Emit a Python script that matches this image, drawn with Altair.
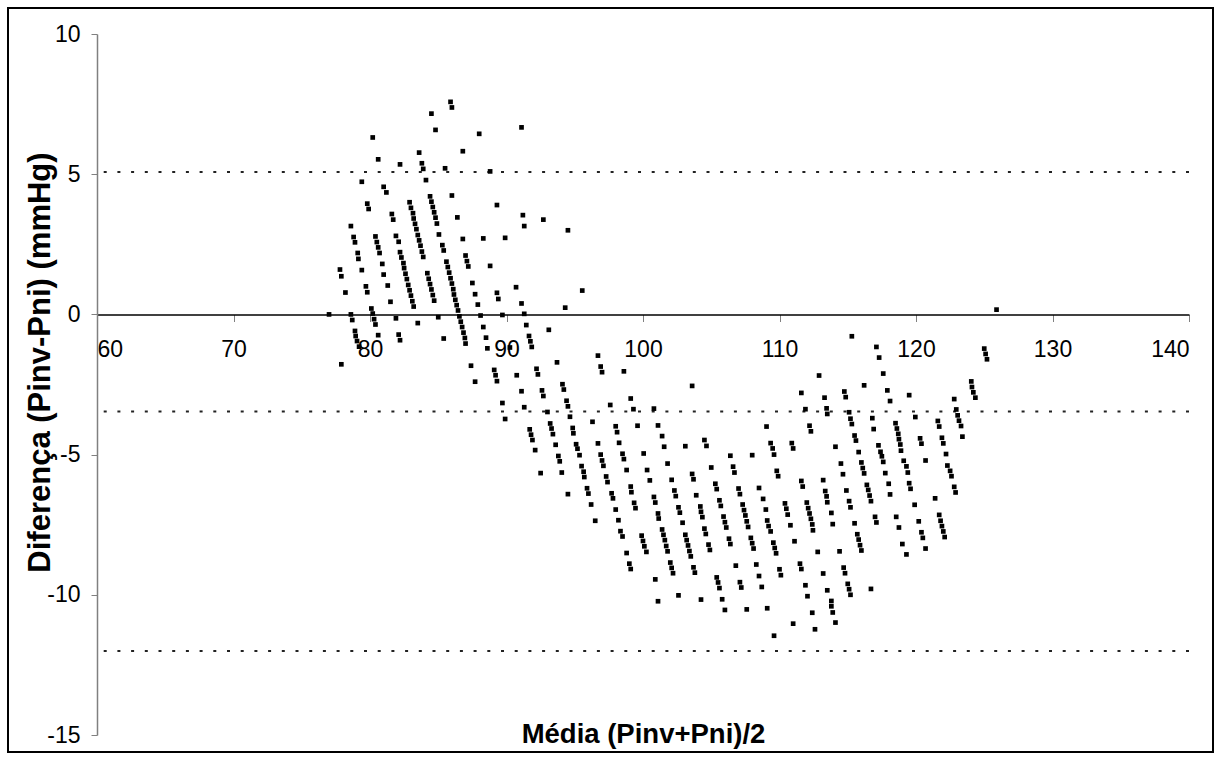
import altair as alt
import pandas as pd

# ---- data (mean, difference) ----
cluster_left = [
    (77.0, 0.0), (77.9, -1.78), (77.8, 1.6), (77.9, 1.36), (78.2, 0.78), (78.6, 0.0),
    (78.7, -0.2), (78.9, -0.59), (78.95, -0.77), (79.05, -0.95), (79.2, -1.15),
    (78.6, 3.15), (78.8, 2.76), (78.9, 2.57), (79.1, 2.19), (79.15, 1.98), (79.4, 1.58),
    (79.7, 1.0), (79.8, 0.79), (80.1, 0.21), (80.2, 0.03), (80.3, -0.17), (80.4, -0.36),
    (80.6, -0.74), (80.2, 6.31), (80.6, 5.53), (79.8, 3.95), (79.9, 3.76), (80.4, 2.78),
    (80.5, 2.58), (80.6, 2.39), (80.7, 2.19), (80.9, 1.8), (79.4, 4.73), (81.0, 4.55),
    (81.2, 4.35), (81.6, 3.58), (81.7, 3.38), (81.9, 2.8), (82.1, 2.59), (82.2, 2.22),
    (82.3, 2.03), (82.45, 1.83), (82.5, 1.65), (81.0, 1.42), (81.3, 1.03), (81.5, 0.45),
    (81.9, -0.14), (82.1, -0.72), (82.2, -0.92), (82.2, 5.35), (83.6, 5.77), (83.8, 5.39),
    (83.9, 5.19), (84.1, 4.79),
]
cluster_peak = [
    (82.9, 4.0), (83.0, 3.8), (83.15, 3.61), (83.2, 3.42), (83.3, 3.23), (83.4, 3.04),
    (83.5, 2.83), (83.6, 2.64), (83.7, 2.45), (83.8, 2.24), (83.9, 2.05),
    (82.6, 1.45), (82.7, 1.26), (82.8, 1.05), (82.9, 0.86), (83.0, 0.67), (83.1, 0.47),
    (83.2, 0.28), (84.2, 1.47), (84.3, 1.27), (84.4, 1.08), (84.5, 0.89), (84.6, 0.69),
    (84.7, 0.49), (84.4, 4.21), (84.5, 4.02), (84.6, 3.83), (84.7, 3.64), (84.8, 3.45),
    (84.9, 3.24), (85.05, 2.85), (85.3, 2.47), (85.4, 2.28), (85.6, 1.88), (85.7, 1.69),
    (85.8, 1.49), (85.9, 1.29), (86.0, 1.1), (86.1, 0.9), (86.15, 0.71), (86.25, 0.52),
    (86.35, 0.33), (86.45, 0.14), (86.55, -0.07), (86.65, -0.26), (86.75, -0.45),
    (86.85, -0.65), (86.95, -0.84), (87.0, -1.04),
    (85.9, 7.58), (86.0, 7.38), (84.5, 7.16), (84.8, 6.58), (88.0, 6.44), (86.8, 5.82),
    (85.5, 5.21), (86.0, 4.24), (86.4, 3.46), (86.8, 2.69), (88.3, 2.71), (87.0, 2.1),
    (87.1, 1.9), (87.2, 1.71), (88.8, 1.73), (88.8, 5.1),
    (87.5, 1.12), (87.7, 0.72), (87.9, 0.35), (88.1, -0.04), (88.3, -0.45), (88.5, -0.83),
    (88.6, -1.21), (87.4, -1.83), (87.7, -2.4), (85.0, -0.1), (85.4, -0.86), (83.5, -0.31),
]
cluster_cross = [
    (89.3, 0.77), (89.4, 0.55), (90.7, 0.97), (91.1, 0.39), (89.7, -0.02), (91.3, 0.02),
    (91.45, -0.38), (91.65, -0.77), (91.75, -0.96), (91.85, -1.16), (93.1, -0.55),
    (94.3, 0.24), (95.55, 0.85), (90.25, -1.18), (89.1, -1.98), (89.2, -2.17), (89.3, -2.38),
    (90.75, -2.17), (92.2, -1.94), (92.3, -2.14), (93.7, -1.71), (91.1, -2.74), (92.6, -2.71),
    (92.7, -2.91), (94.1, -2.49), (94.2, -2.68), (94.4, -3.08), (94.5, -3.28), (96.7, -1.47),
    (96.9, -1.86), (97.0, -2.06), (98.6, -2.03), (89.7, -3.16), (89.9, -3.73), (91.3, -3.31),
    (93.0, -3.48), (94.65, -3.65), (97.6, -3.23), (99.1, -3.0), (99.3, -3.38), (100.8, -3.36),
    (96.3, -3.83), (98.0, -3.99), (98.1, -4.2), (99.6, -3.97), (101.1, -3.96), (91.7, -4.1),
    (91.8, -4.29), (91.9, -4.48), (93.2, -3.89), (93.3, -4.07), (93.4, -4.27), (94.85, -4.05),
    (94.9, -4.24), (93.6, -4.65), (95.1, -4.63), (95.2, -4.79), (96.7, -4.6), (98.25, -4.58),
    (92.1, -4.84),
    (91.1, 6.67), (89.3, 3.9), (91.2, 3.54), (91.3, 3.15), (92.7, 3.38), (94.5, 3.0),
    (89.9, 2.73),
]
cluster_mid = [
    (93.8, -5.05), (93.9, -5.24), (92.5, -5.66), (94.05, -5.64), (94.5, -6.41), (95.35, -5.02),
    (95.5, -5.41), (95.65, -5.61), (95.7, -5.8), (95.9, -6.2), (96.0, -6.39), (96.2, -6.78),
    (96.5, -7.36), (96.9, -5.0), (97.0, -5.21), (97.1, -5.4), (97.3, -5.78), (97.4, -5.98),
    (97.7, -6.38), (97.8, -6.56), (98.0, -6.96), (98.2, -7.34), (98.35, -7.73), (98.5, -7.92),
    (98.8, -8.51), (99.0, -8.89), (99.1, -9.08), (100.9, -9.45), (101.1, -10.23), (98.5, -4.97),
    (98.6, -5.16), (98.8, -5.55), (99.1, -6.14), (99.15, -6.34), (99.35, -6.72), (99.45, -6.91),
    (99.9, -7.89), (100.0, -8.08), (100.1, -8.27), (100.25, -8.47), (100.05, -4.96),
    (100.3, -5.55), (100.5, -5.92), (100.8, -6.51), (100.9, -6.71), (101.1, -7.1), (101.15, -7.28),
    (101.8, -5.32), (102.1, -5.9), (102.3, -6.28), (102.4, -6.48), (102.6, -6.88), (102.7, -7.07),
    (102.9, -7.43), (101.4, -7.67), (101.5, -7.86), (101.6, -8.05), (101.7, -8.26), (101.8, -8.45),
    (102.0, -8.85), (102.1, -9.04), (102.2, -9.23), (102.6, -10.02),
    (103.6, -5.69), (103.7, -5.88), (103.9, -6.45), (104.2, -6.85), (104.25, -7.04),
    (104.35, -7.23), (103.1, -7.86), (103.2, -8.05), (103.3, -8.24), (103.4, -8.44),
    (103.5, -8.63), (103.7, -9.02), (103.8, -9.21), (104.25, -10.17), (104.5, -7.64),
    (104.6, -7.83), (104.8, -8.21), (104.9, -8.4), (105.4, -9.38), (105.5, -9.56), (105.6, -9.76),
    (105.8, -10.16), (106.0, -10.54), (105.0, -5.46), (105.3, -6.04), (105.4, -6.23),
    (105.6, -6.63), (105.7, -6.83), (105.9, -7.21), (106.0, -7.41), (106.1, -7.6), (106.3, -8.0),
    (106.4, -8.19), (106.4, -5.04), (106.6, -5.43), (106.7, -5.64), (107.0, -6.21), (107.1, -6.41),
    (107.3, -6.78), (107.4, -6.98), (107.5, -7.17), (107.6, -7.38), (107.7, -7.58), (107.9, -7.97),
    (108.0, -8.16), (108.1, -8.35), (106.8, -8.96), (107.1, -9.55), (107.2, -9.74), (107.6, -10.52),
    (108.0, -5.02), (108.5, -6.19), (108.8, -6.58), (109.0, -6.96), (109.1, -7.35), (109.2, -7.55),
    (109.35, -7.74), (109.55, -8.14), (109.65, -8.33), (109.75, -8.52), (108.3, -8.92),
    (108.5, -9.33), (108.7, -9.72), (109.1, -10.48), (109.6, -11.46), (109.6, -5.0),
    (109.8, -5.58), (109.9, -5.77), (110.0, -9.09), (110.1, -9.3), (110.4, -6.74), (110.5, -6.93),
    (110.6, -7.14), (110.8, -7.52), (111.0, -11.03), (111.1, -8.09), (111.6, -5.94), (111.7, -6.14),
    (111.5, -8.89), (111.6, -9.08), (111.9, -9.66), (112.05, -10.05), (112.4, -10.64),
    (112.6, -11.23), (112.0, -6.71), (112.1, -6.91), (112.2, -7.1), (112.3, -7.29), (112.4, -7.49),
    (112.45, -7.7), (112.8, -8.47), (113.2, -9.24), (113.2, -5.91), (113.35, -6.3), (113.45, -6.49),
    (113.5, -6.7), (113.5, -9.84),
]
cluster_right = [
    (115.8, -4.91), (117.4, -4.9), (117.5, -5.06), (117.6, -5.26), (118.9, -4.86), (119.1, -5.22),
    (119.3, -5.42), (119.4, -5.64), (120.7, -5.21), (122.2, -4.98), (122.3, -5.39), (122.5, -5.58),
    (122.6, -5.77), (122.8, -6.15), (122.9, -6.35), (114.5, -5.32), (114.65, -5.7), (116.0, -5.28),
    (116.1, -5.48), (116.2, -5.67), (114.9, -6.28), (115.1, -6.66), (115.2, -6.88), (116.4, -6.08),
    (116.5, -6.26), (116.6, -6.46), (116.7, -6.66), (117.75, -5.66), (118.0, -6.04), (118.1, -6.42),
    (119.5, -6.02), (119.6, -6.22), (119.9, -6.79), (121.4, -6.56), (113.8, -7.08), (113.9, -7.48),
    (115.5, -7.45), (117.0, -7.22), (117.1, -7.42), (118.55, -7.22), (118.75, -7.6), (120.2, -7.38),
    (120.4, -7.77), (120.5, -7.97), (121.7, -7.15), (121.8, -7.36), (121.9, -7.55), (122.0, -7.74),
    (122.1, -7.94), (115.7, -7.84), (115.8, -8.03), (115.9, -8.23), (116.0, -8.42), (114.4, -8.45),
    (119.0, -8.19), (119.3, -8.56), (120.7, -8.35), (114.7, -9.03), (114.8, -9.23), (115.0, -9.61),
    (115.1, -9.8), (115.2, -10.0), (116.7, -9.79), (113.8, -10.22), (113.8, -10.41), (113.9, -10.63),
    (114.1, -10.99),
    (125.9, 0.17), (125.0, -1.22), (125.1, -1.41), (125.2, -1.6), (124.05, -2.39), (124.1, -2.59),
    (124.2, -2.78), (124.35, -2.97), (122.8, -3.02), (122.95, -3.39), (123.05, -3.6), (123.15, -3.79),
    (123.3, -3.98), (123.4, -4.36), (121.6, -3.8), (121.7, -4.0), (121.9, -4.4), (122.0, -4.6),
    (115.3, -0.78), (117.1, -1.16), (117.3, -1.54), (117.6, -2.11), (116.2, -2.53), (117.9, -2.71),
    (118.1, -3.09), (119.5, -2.88), (114.75, -2.75), (114.85, -2.95), (115.1, -3.49), (115.2, -3.72),
    (115.3, -3.91), (116.8, -3.7), (116.9, -4.09), (115.5, -4.32), (115.6, -4.5), (114.1, -4.72),
    (117.25, -4.67), (118.5, -3.88), (118.6, -4.07), (118.7, -4.26), (118.75, -4.45), (118.85, -4.64),
    (119.95, -3.66), (120.3, -4.42), (120.4, -4.61),
    (103.6, -2.55), (112.9, -2.18), (111.6, -2.8), (113.3, -2.97), (111.9, -3.38), (113.45, -3.35),
    (113.5, -3.55), (112.2, -3.97), (112.3, -4.17), (109.05, -4.0), (109.35, -4.59), (109.5, -4.78),
    (110.9, -4.59), (111.0, -4.78), (101.4, -4.34), (101.55, -4.72), (103.1, -4.7), (104.5, -4.48),
    (104.65, -4.69),
]

limit_lines = [5.08, -3.46, -12.0]
x_ticks = [60, 70, 80, 90, 100, 110, 120, 130, 140]
y_ticks = [-15, -10, -5, 0, 5, 10]

points = cluster_left + cluster_peak + cluster_cross + cluster_mid + cluster_right
df = pd.DataFrame(points, columns=["media", "dif"])
lines_df = pd.DataFrame({"lim": limit_lines})
frame_df = pd.DataFrame({"k": [0]})

FONT = "Liberation Sans"
W, H = 1092, 701
PAD_L, PAD_T = 97, 34

x_axis = alt.Axis(
    values=x_ticks, offset=-420.5, grid=False,
    title="Média (Pinv+Pni)/2", titleY=428, titleBaseline="alphabetic",
    titleFont=FONT, titleFontSize=27.5, titleFontWeight="bold", titleColor="black",
    labelFont=FONT, labelFontSize=23, labelColor="black", labelPadding=17,
    labelExpr="'' + datum.value",
    tickSize=7, tickColor="#808080", domainColor="black", domainWidth=1.5,
)
y_axis = alt.Axis(
    values=y_ticks, grid=False,
    title="Diferença (Pinv-Pni) (mmHg)", titleX=-57, titleY=328, titleAngle=270,
    titleAlign="center", titleBaseline="middle",
    titleFont=FONT, titleFontSize=31, titleFontWeight="bold", titleColor="black",
    labelFont=FONT, labelFontSize=23, labelColor="black", labelPadding=11,
    labelExpr="'' + datum.value",
    tickSize=6, tickColor="#808080", domainColor="#808080", domainWidth=1.5,
)

xs = alt.Scale(domain=[60, 140], nice=False, zero=False)
ys = alt.Scale(domain=[-15, 10], nice=False, zero=False)

pts = alt.Chart(df).mark_square(size=22, color="black", opacity=1).encode(
    x=alt.X("media:Q", scale=xs, axis=x_axis),
    y=alt.Y("dif:Q", scale=ys, axis=y_axis),
)

rules = alt.Chart(lines_df).mark_rule(
    color="#222222", strokeWidth=2, strokeDash=[3, 10.7]
).encode(y=alt.Y("lim:Q", scale=ys))

frame = alt.Chart(frame_df).mark_rect(
    fillOpacity=0, stroke="black", strokeWidth=2, clip=False
).encode(
    x=alt.value(8 - PAD_L), x2=alt.value(1213 - PAD_L),
    y=alt.value(8 - PAD_T), y2=alt.value(752 - PAD_T),
)

chart = alt.layer(rules, pts, frame).properties(
    width=W, height=H,
    autosize=alt.AutoSizeParams(type="none"),
    padding={"left": PAD_L, "top": PAD_T, "right": 1220 - PAD_L - W, "bottom": 760 - PAD_T - H},
    background="white",
).configure_view(stroke=None)

chart.save("out.html", embed_options={"renderer": "svg", "actions": False})
